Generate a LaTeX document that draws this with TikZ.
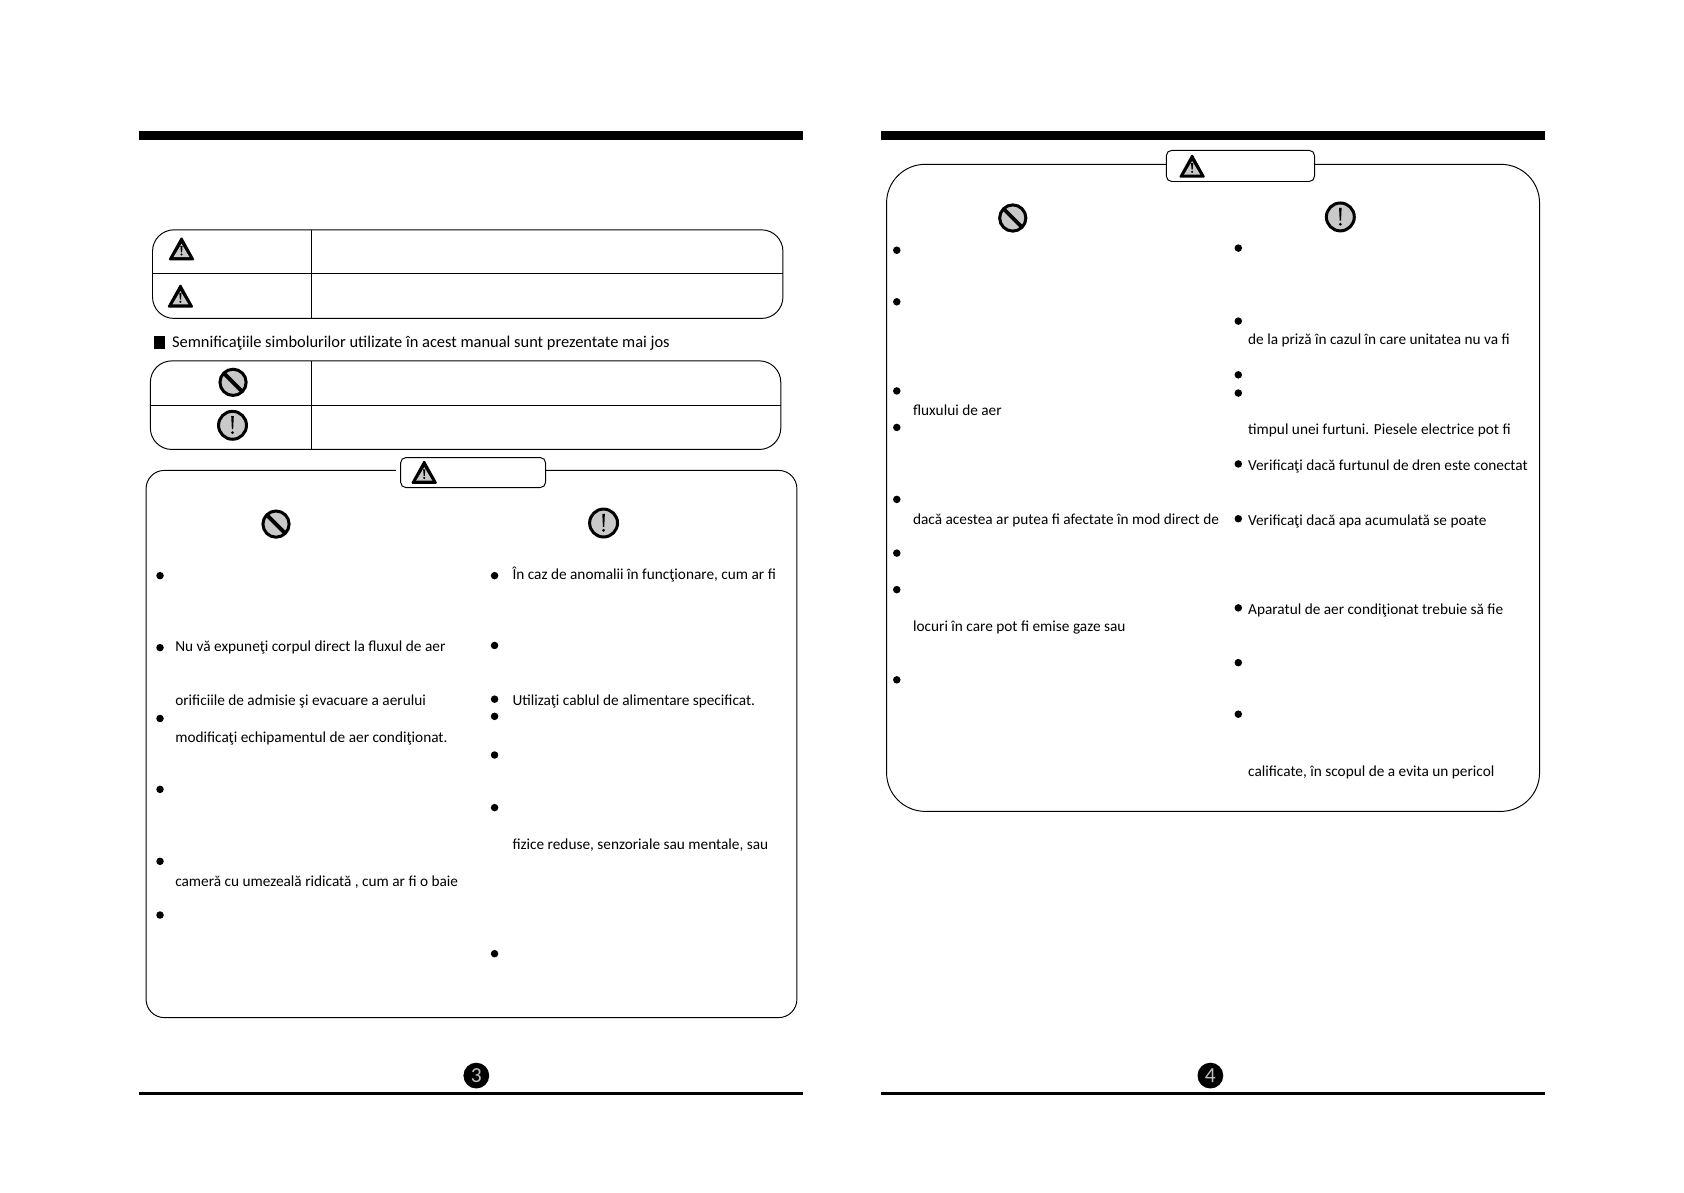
\documentclass[tikz,border=0pt]{standalone}
\usepackage{fontspec}
\setmainfont{Carlito}
\definecolor{icongray}{HTML}{C9C9C9}
\tikzset{
  x=1pt,y=-1pt,
  frame/.style={draw=black,line width=0.9pt,fill=white},
  rule/.style={draw=black,line width=0.9pt},
  bul/.style={circle,fill=black,minimum size=7pt,inner sep=0pt},
  txt/.style={anchor=mid west,inner sep=0pt,yshift=-2.6pt,font=\fontsize{14.25}{18}\selectfont,text=black},
  headtxt/.style={txt,font=\fontsize{15.3}{18}\selectfont},
  numdisc/.style={circle,fill=black,minimum size=24pt,inner sep=0pt,text=black!25,font=\fontsize{20}{20}\selectfont},
  warnicon/.pic={
    \fill[black,rounded corners=1.5pt] (0,-12) -- (12.5,10.5) -- (-12.5,10.5) -- cycle;
    \fill[icongray] (0,-5) -- (7.5,7.5) -- (-7.5,7.5) -- cycle;
    \fill[black] (-1,-3) -- (1,-3) -- (0.5,3) -- (-0.5,3) -- cycle;
    \fill[black] (0,5) circle (1.1pt);
  },
  banicon/.pic={
    \draw[black,line width=2.8pt,fill=icongray] (0,0) circle (12.2pt);
    \draw[black,line width=3.6pt] (-8.5,-8.5) -- (8.5,8.5);
  },
  markicon/.pic={
    \draw[black,line width=2.8pt,fill=icongray] (0,0) circle (13pt);
    \fill[black] (-1.2,-8.5) -- (1.2,-8.5) -- (0.6,3.5) -- (-0.6,3.5) -- cycle;
    \fill[black] (0,6.8) circle (1.4pt);
  },
}
\begin{document}
\begin{tikzpicture}
\useasboundingbox[fill=white] (0,0) rectangle (1568,1110);

% page rules
\fill[black] (129,122) rectangle (748,130);
\fill[black] (820,122) rectangle (1439,130);
\fill[black] (129,1016.5) rectangle (748,1019.5);
\fill[black] (820,1016.5) rectangle (1439,1019.5);
\node[numdisc] (num3) at (443.5,1001.5) {3};
\node[numdisc] (num4) at (1127,1001.5) {4};

% table 1
\draw[frame,rounded corners=20pt] (142,214) rectangle (729,296.5);
\draw[rule] (142,255) -- (729,255);
\draw[rule] (290,214) -- (290,296.5);
\pic (w1) at (169,232) {warnicon};
\pic (w2) at (168,276) {warnicon};

% heading
\fill[black] (143,313) rectangle (154,325);
\node[headtxt] (head) at (160,319) {Semnificaţiile simbolurilor utilizate în acest manual sunt prezentate mai jos};

% table 2
\draw[frame,rounded corners=20pt] (140,336) rectangle (727,418.5);
\draw[rule] (140,378) -- (727,378);
\draw[rule] (290,336) -- (290,418.5);
\pic (b0) at (217,356) {banicon};
\pic (m0) at (216.5,396) {markicon};

% left box
\draw[frame,rounded corners=17pt] (136,438) rectangle (742,947.5);
\fill[white] (369,434) rectangle (374,442);
\draw[frame,rounded corners=5pt] (373,426) rectangle (508,454);
\pic (w3) at (395,440) {warnicon};
\pic (b1) at (257,488) {banicon};
\pic (m1) at (562,487) {markicon};
\foreach \y in {536,603,669,735,802,852} \node[bul] (pl\y) at (149,\y) {};
\foreach \y in {536,601,651,667,703,752,888} \node[bul] (pr\y) at (460.5,\y) {};
\node[txt] (t1) at (163,602) {Nu vă expuneţi corpul direct la fluxul de aer};
\node[txt] (t2) at (163,652) {orificiile de admisie şi evacuare a aerului};
\node[txt] (t3) at (163,686) {modificaţi echipamentul de aer condiţionat.};
\node[txt] (t4) at (163,820) {cameră cu umezeală ridicată , cum ar fi o baie};
\node[txt] (t5) at (477,535) {În caz de anomalii în funcţionare, cum ar fi};
\node[txt] (t6) at (477,652) {Utilizaţi cablul de alimentare specificat.};
\node[txt] (t7) at (477,786) {fizice reduse, senzoriale sau mentale, sau};

% right box
\draw[frame,rounded corners=36pt] (825.5,153) rectangle (1433.5,755.5);
\draw[frame,rounded corners=5pt] (1086,140) rectangle (1224,169);
\pic (w4) at (1110,155) {warnicon};
\pic (b2) at (943,203) {banicon};
\pic (m2) at (1248,202) {markicon};
\foreach \y in {233,281,364,398,465,515,549,633} \node[bul] (ql\y) at (835,\y) {};
\foreach \y in {231,299,349,366,432,483,566,617,665} \node[bul] (qr\y) at (1153,\y) {};
\node[txt] (u1) at (850,382) {fluxului de aer};
\node[txt] (u2) at (850,483) {dacă acestea ar putea fi afectate în mod direct de};
\node[txt] (u3) at (850,583) {locuri în care pot fi emise gaze sau};
\node[txt] (u4) at (1162,316) {de la priză în cazul în care unitatea nu va fi};
\node[txt] (u5) at (1162,400) {timpul unei furtuni. Piesele electrice pot fi};
\node[txt] (u6) at (1162,433) {Verificaţi dacă furtunul de dren este conectat};
\node[txt] (u7) at (1162,484) {Verificaţi dacă apa acumulată se poate};
\node[txt] (u8) at (1162,567) {Aparatul de aer condiţionat trebuie să fie};
\node[txt] (u9) at (1162,718) {calificate, în scopul de a evita un pericol};
\end{tikzpicture}
\end{document}
